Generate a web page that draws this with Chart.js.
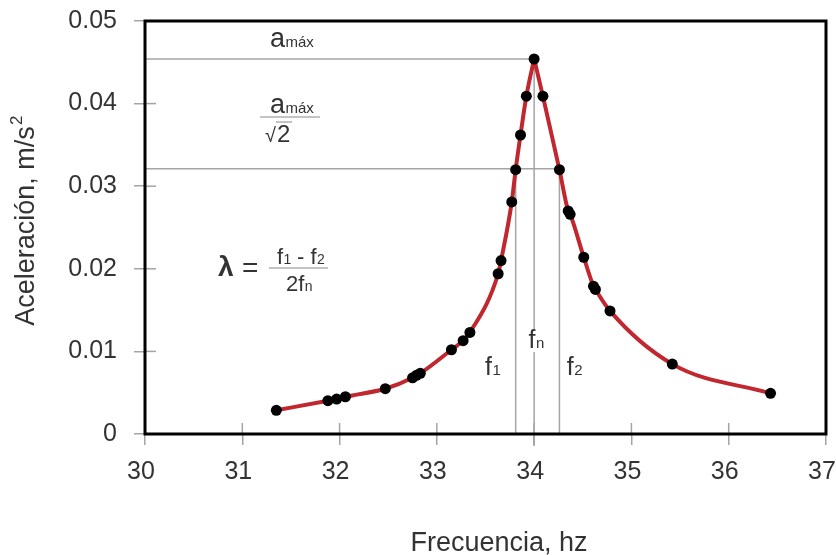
<!DOCTYPE html>
<html>
<head>
<meta charset="utf-8">
<script src="https://cdn.jsdelivr.net/npm/chart.js@4.4.1/dist/chart.umd.min.js"></script>
<style>
  html, body { margin: 0; padding: 0; background: #fff; }
  #wrap { width: 836px; height: 555px; }
</style>
</head>
<body>
<div id="wrap"><canvas id="chart"></canvas></div>
<script>
// measured response curve
const freqs = [31.35, 31.88, 31.97, 32.06, 32.47, 32.75, 32.79, 32.83, 33.15, 33.27, 33.34,
               33.63, 33.66, 33.77, 33.81, 33.86, 33.92, 34.00, 34.09, 34.26, 34.35, 34.37,
               34.51, 34.61, 34.63, 34.78, 35.42, 36.43];
const accel = [0.00287, 0.00403, 0.00423, 0.00451, 0.00548, 0.00680, 0.00710, 0.00735, 0.0102, 0.0113, 0.0123,
               0.0194, 0.0210, 0.0281, 0.0320, 0.0362, 0.0409, 0.0454, 0.0409, 0.0320, 0.0270, 0.0266,
               0.0214, 0.0179, 0.0175, 0.0149, 0.00846, 0.00492];

const xTicks = [30, 31, 32, 33, 34, 35, 36, 37];
const yTicks = [0, 0.01, 0.02, 0.03, 0.04, 0.05];

// half-power bandwidth markers
const aMax = 0.0454;
const aHalf = aMax / Math.SQRT2;
const fN = 34.0;
const f1 = 33.81;
const f2 = 34.26;

const TXT = "#333";
const FONT = "'Liberation Sans', Arial, sans-serif";
const GREY = "#a4a4a4";

const pts = freqs.map((f, i) => ({ x: f, y: accel[i] }));
const peak = accel.indexOf(Math.max(...accel));

function line(ctx, x0, y0, x1, y1) {
    ctx.beginPath();
    ctx.moveTo(x0, y0);
    ctx.lineTo(x1, y1);
    ctx.stroke();
}

// text with a small subscript sitting on the same baseline
function subText(ctx, main, sub, x, base, big, small, align) {
    ctx.font = `${big}px ${FONT}`;
    const w1 = ctx.measureText(main).width;
    ctx.font = `${small}px ${FONT}`;
    const w2 = ctx.measureText(sub).width;
    let x0 = x;
    if (align === "center") x0 = x - (w1 + w2) / 2;
    ctx.textAlign = "left";
    ctx.textBaseline = "alphabetic";
    ctx.font = `${big}px ${FONT}`;
    ctx.fillText(main, x0, base);
    ctx.font = `${small}px ${FONT}`;
    ctx.fillText(sub, x0 + w1 + 0.5, base);
    return x0 + w1 + w2;
}

const frame = {
    id: "frame",
    beforeDatasetsDraw(chart) {
        const { ctx, scales: { x, y } } = chart;
        ctx.save();
        ctx.strokeStyle = GREY;
        ctx.lineWidth = 1.5;

        // inner half of the tick marks
        xTicks.slice(1, -1).forEach(v => {
            const px = x.getPixelForValue(v);
            line(ctx, px, y.bottom, px, y.bottom - 11);
        });
        yTicks.slice(1, -1).forEach(v => {
            const py = y.getPixelForValue(v);
            line(ctx, x.left, py, x.left + 11, py);
        });

        // reference lines
        const yMax = y.getPixelForValue(aMax);
        const yHalf = y.getPixelForValue(aHalf);
        const xN = x.getPixelForValue(fN);
        const x1 = x.getPixelForValue(f1);
        const x2 = x.getPixelForValue(f2);
        line(ctx, x.left, yMax, xN, yMax);
        line(ctx, x.left, yHalf, x2, yHalf);
        line(ctx, x1, y.bottom, x1, yHalf);
        line(ctx, x2, y.bottom, x2, yHalf);
        line(ctx, xN, y.bottom + 12, xN, yMax);

        // plot frame
        ctx.strokeStyle = "#000";
        ctx.lineWidth = 3;
        ctx.strokeRect(x.left, y.top, x.right - x.left, y.bottom - y.top);
        ctx.restore();
    },
    afterDatasetsDraw(chart) {
        const { ctx, scales: { x, y } } = chart;
        ctx.save();
        ctx.fillStyle = TXT;

        // axis titles
        ctx.font = `27px ${FONT}`;
        ctx.textAlign = "center";
        ctx.textBaseline = "alphabetic";
        ctx.fillText("Frecuencia, hz", 499, 551);
        ctx.save();
        ctx.translate(34, 220);
        ctx.rotate(-Math.PI / 2);
        ctx.fillText("Aceleración, m/s", -6, 0);
        const tw = ctx.measureText("Aceleración, m/s").width;
        ctx.font = `17px ${FONT}`;
        ctx.fillText("2", -6 + tw / 2 + 6, -12);
        ctx.restore();

        // a max labels
        subText(ctx, "a", "máx", 270, 47, 27, 15, "left");
        subText(ctx, "a", "máx", 270, 113, 27, 15, "left");
        ctx.strokeStyle = "#888";
        ctx.lineWidth = 1;
        line(ctx, 260, 117, 320, 117);
        ctx.font = `20px ${FONT}`;
        ctx.textAlign = "left";
        ctx.fillText("√", 265, 142);
        ctx.font = `24px ${FONT}`;
        ctx.fillText("2", 277, 142);
        line(ctx, 276, 122, 292, 122);

        // damping ratio formula
        ctx.font = `bold 28px ${FONT}`;
        ctx.fillText("λ", 218, 276);
        ctx.font = `28px ${FONT}`;
        ctx.fillText("=", 242, 277);
        line(ctx, 269, 268, 328, 268);
        let cx = subText(ctx, "f", "1", 277, 264, 22, 14, "left");
        ctx.font = `22px ${FONT}`;
        ctx.fillText(" - ", cx, 264);
        cx += ctx.measureText(" - ").width;
        subText(ctx, "f", "2", cx, 264, 22, 14, "left");
        ctx.font = `22px ${FONT}`;
        ctx.fillText("2", 286, 291);
        subText(ctx, "f", "n", 286 + ctx.measureText("2").width, 291, 22, 14, "left");

        // frequency markers
        subText(ctx, "f", "1", x.getPixelForValue(f1) - 23, 375, 25, 15, "center");
        subText(ctx, "f", "2", x.getPixelForValue(f2) + 15, 375, 25, 15, "center");
        const xN = x.getPixelForValue(fN);
        ctx.fillStyle = "#fff";
        ctx.fillRect(xN - 2, 329, 4, 23);
        ctx.fillStyle = TXT;
        subText(ctx, "f", "n", xN + 2, 348, 25, 15, "center");
        ctx.restore();
    }
};

new Chart(document.getElementById("chart"), {
    type: "scatter",
    data: {
        datasets: [
            {
                data: pts,
                showLine: false,
                pointRadius: 5.5,
                pointBackgroundColor: "#000",
                pointBorderWidth: 0
            },
            {
                data: pts.slice(0, peak + 1),
                showLine: true,
                borderColor: "#c1272f",
                borderWidth: 4,
                pointRadius: 0,
                cubicInterpolationMode: "monotone"
            },
            {
                data: pts.slice(peak),
                showLine: true,
                borderColor: "#c1272f",
                borderWidth: 4,
                pointRadius: 0,
                cubicInterpolationMode: "monotone"
            }
        ]
    },
    options: {
        responsive: true,
        maintainAspectRatio: false,
        animation: false,
        layout: { padding: { top: 21, right: 10, left: 0, bottom: 0 } },
        plugins: { legend: { display: false }, tooltip: { enabled: false } },
        scales: {
            x: {
                min: 30,
                max: 37,
                afterBuildTicks: s => { s.ticks = xTicks.map(v => ({ value: v })); },
                afterFit: s => { s.height = 121; s.paddingLeft = 0; s.paddingRight = 0; },
                border: { display: false },
                grid: { drawOnChartArea: false, drawTicks: true, tickLength: 11, color: GREY, lineWidth: 1.5 },
                ticks: { color: TXT, font: { family: FONT, size: 25 }, padding: 12, labelOffset: -4,
                         callback: v => String(v) }
            },
            y: {
                min: 0,
                max: 0.05,
                afterBuildTicks: s => { s.ticks = yTicks.map(v => ({ value: v })); },
                afterFit: s => { s.width = 145; s.paddingTop = 0; s.paddingBottom = 0; },
                border: { display: false },
                grid: { drawOnChartArea: false, drawTicks: true, tickLength: 11, color: GREY, lineWidth: 1.5 },
                ticks: { color: TXT, font: { family: FONT, size: 25 }, padding: 17,
                         callback: v => v === 0 ? "0" : v.toFixed(2) }
            }
        }
    },
    plugins: [frame]
});
</script>
</body>
</html>
